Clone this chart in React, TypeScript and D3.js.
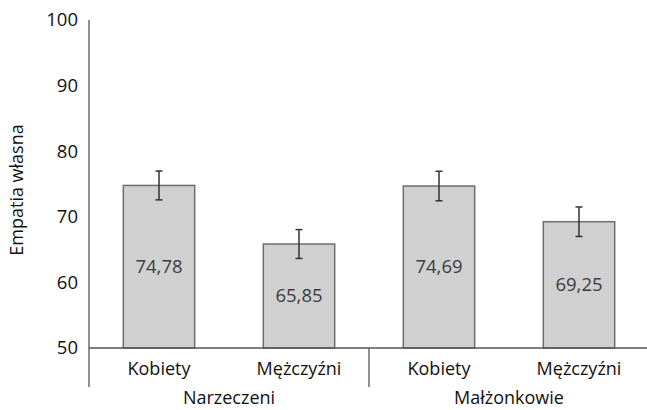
import React, { useRef, useEffect } from 'react';
import * as d3 from 'd3';

const categories = ["Kobiety", "Mężczyźni", "Kobiety", "Mężczyźni"];
const values = [74.78, 65.85, 74.69, 69.25];
const errors = [2.2, 2.2, 2.25, 2.25];
const valueLabels = ["74,78", "65,85", "74,69", "69,25"];
const groups = ["Narzeczeni", "Małżonkowie"];
const yTicks = [50, 60, 70, 80, 90, 100];

const FONT = "'Open Sans', 'Noto Sans', sans-serif";

export default function App() {
  const svgRef = useRef(null);

  useEffect(() => {
    const svg = d3.select(svgRef.current);
    svg.selectAll("*").remove();

    const width = 647;
    const margin = { top: 20, left: 89, bottom: 348 };

    const x = d3.scaleBand()
      .domain(categories.map((d, i) => String(i)))
      .range([margin.left, margin.left + 560])
      .paddingInner(0.49)
      .paddingOuter(0.245);

    const y = d3.scaleLinear()
      .domain([50, 100])
      .range([margin.bottom, margin.top]);

    // y axis
    svg.append("line")
      .attr("x1", margin.left).attr("x2", margin.left)
      .attr("y1", y(100)).attr("y2", 387)
      .attr("stroke", "#555").attr("stroke-width", 1.3);

    svg.append("g")
      .selectAll("text")
      .data(yTicks)
      .enter().append("text")
      .attr("x", 78)
      .attr("y", d => y(d))
      .attr("dy", "0.35em")
      .attr("text-anchor", "end")
      .attr("font-family", FONT)
      .attr("font-size", 18.5)
      .attr("fill", "#111")
      .text(d => d);

    svg.append("text")
      .attr("transform", `translate(23,${(y(100) + y(50)) / 2 + 6}) rotate(-90)`)
      .attr("text-anchor", "middle")
      .attr("font-family", FONT)
      .attr("font-size", 18)
      .attr("fill", "#111")
      .text("Empatia własna");

    // bars
    const bars = svg.append("g")
      .selectAll("g")
      .data(values)
      .enter().append("g");

    bars.append("rect")
      .attr("x", (d, i) => x(String(i)))
      .attr("y", d => y(d))
      .attr("width", x.bandwidth())
      .attr("height", d => y(50) - y(d))
      .attr("fill", "#d0d0d1")
      .attr("stroke", "#6e6e6e")
      .attr("stroke-width", 1.5);

    bars.append("text")
      .attr("x", (d, i) => x(String(i)) + x.bandwidth() / 2)
      .attr("y", d => (y(d) + y(50)) / 2)
      .attr("dy", "0.35em")
      .attr("text-anchor", "middle")
      .attr("font-family", FONT)
      .attr("font-size", 18.5)
      .attr("fill", "#3c3c3c")
      .text((d, i) => valueLabels[i]);

    // error bars
    const err = svg.append("g")
      .attr("stroke", "#333")
      .attr("stroke-width", 1.5)
      .selectAll("g")
      .data(values)
      .enter().append("g");

    const cx = i => x(String(i)) + x.bandwidth() / 2;
    err.append("line")
      .attr("x1", (d, i) => cx(i)).attr("x2", (d, i) => cx(i))
      .attr("y1", (d, i) => y(d + errors[i])).attr("y2", (d, i) => y(d - errors[i]));
    err.append("line")
      .attr("x1", (d, i) => cx(i) - 3.5).attr("x2", (d, i) => cx(i) + 3.5)
      .attr("y1", (d, i) => y(d + errors[i])).attr("y2", (d, i) => y(d + errors[i]));
    err.append("line")
      .attr("x1", (d, i) => cx(i) - 3.5).attr("x2", (d, i) => cx(i) + 3.5)
      .attr("y1", (d, i) => y(d - errors[i])).attr("y2", (d, i) => y(d - errors[i]));

    // x axis baseline
    svg.append("line")
      .attr("x1", margin.left).attr("x2", width)
      .attr("y1", y(50)).attr("y2", y(50))
      .attr("stroke", "#555").attr("stroke-width", 1.3);

    // category labels
    svg.append("g")
      .selectAll("text")
      .data(categories)
      .enter().append("text")
      .attr("x", (d, i) => cx(i))
      .attr("y", 369)
      .attr("dy", "0.35em")
      .attr("text-anchor", "middle")
      .attr("font-family", FONT)
      .attr("font-size", 18)
      .attr("fill", "#111")
      .text(d => d);

    // group separator and labels
    const sepX = (x(String(1)) + x.bandwidth() + x(String(2))) / 2;
    svg.append("line")
      .attr("x1", sepX).attr("x2", sepX)
      .attr("y1", y(50)).attr("y2", 387)
      .attr("stroke", "#555").attr("stroke-width", 1.3);

    const groupCenters = [(margin.left + sepX) / 2, (sepX + margin.left + 560) / 2];
    svg.append("g")
      .selectAll("text")
      .data(groups)
      .enter().append("text")
      .attr("x", (d, i) => groupCenters[i])
      .attr("y", 398)
      .attr("dy", "0.35em")
      .attr("text-anchor", "middle")
      .attr("font-family", FONT)
      .attr("font-size", 18)
      .attr("fill", "#111")
      .text(d => d);
  }, []);

  return (
    <svg ref={svgRef} width={647} height={410}
      style={{ position: "absolute", left: 0, top: 0, background: "#fff" }} />
  );
}
